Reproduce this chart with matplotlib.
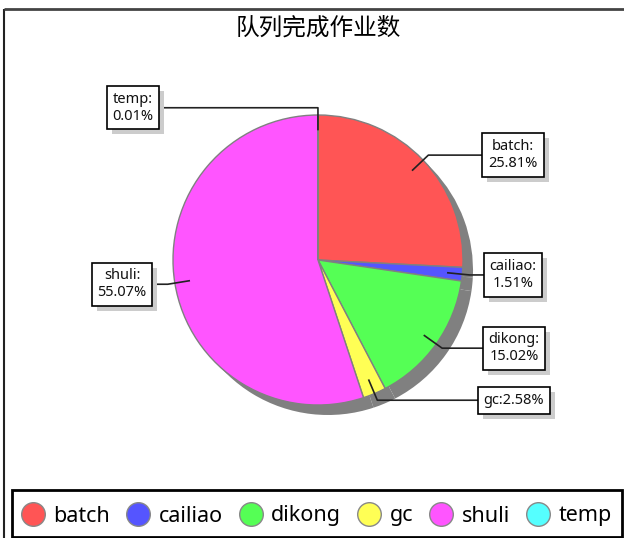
import numpy as np
import matplotlib.pyplot as plt
import matplotlib.patheffects as pe
from matplotlib.lines import Line2D
from matplotlib.patches import Rectangle

plt.rcParams['font.family'] = ['Noto Sans', 'Noto Sans CJK SC', 'DejaVu Sans']

title = '队列完成作业数'
names = ['batch', 'cailiao', 'dikong', 'gc', 'shuli', 'temp']
shares = [25.81, 1.51, 15.02, 2.58, 55.07, 0.01]
colors = ['#ff5555', '#5555ff', '#55ff55', '#ffff55', '#ff55ff', '#55ffff']

W, H = 624, 538
fig = plt.figure(figsize=(W / 100, H / 100), dpi=100)
ax = fig.add_axes([0, 0, 1, 1])

cx, cy, r = 318, 278, 145

# shadow of the pie
ax.pie(shares, colors=['#808080'] * len(shares), startangle=90, counterclock=False,
       center=(cx + 10, cy - 10), radius=r, frame=True,
       wedgeprops=dict(linewidth=0))
wedges, _ = ax.pie(shares, colors=colors, startangle=90, counterclock=False,
                   center=(cx, cy), radius=r, frame=True,
                   wedgeprops=dict(edgecolor='#808080', linewidth=1))

# label boxes with leader lines
box_x = [513, 513, 514, 514, 122, 133]
for w, name, val, bx in zip(wedges, names, shares, box_x):
    ang = np.deg2rad((w.theta1 + w.theta2) / 2)
    x0, y0 = cx + 0.9 * r * np.cos(ang), cy + 0.9 * r * np.sin(ang)
    x1, y1 = cx + 1.05 * r * np.cos(ang), cy + 1.05 * r * np.sin(ang)
    ax.plot([x0, x1, bx], [y0, y1, y1], color='#222222', lw=1.2, zorder=3)
    txt = f'{name}:{val:.2f}%' if len(name) <= 2 else f'{name}:\n{val:.2f}%'
    t = ax.text(bx, y1, txt, ha='center', va='center', fontsize=10.5,
                color='#111111', zorder=5, linespacing=1.15,
                bbox=dict(boxstyle='square,pad=0.4', fc='white', ec='black', lw=1.2))
    t.get_bbox_patch().set_path_effects([
        pe.SimplePatchShadow(offset=(3.6, -3.6), shadow_rgbFace='#cccccc', alpha=1),
        pe.Normal()])

ax.text(318, H - 28, title, ha='center', va='center', fontsize=17,
        family=['Noto Sans CJK SC', 'DejaVu Sans'])

# outer frame (left and top edges visible)
ax.plot([4, 4], [0, H - 8.5], color='#222222', lw=1.5, solid_capstyle='butt')
ax.plot([4, W], [H - 8.5, H - 8.5], color='#444444', lw=2, solid_capstyle='butt')

# legend frame
ax.add_patch(Rectangle((12, 1), 610, 47, fill=False, ec='black', lw=2, zorder=6))
handles = [Line2D([], [], ls='none', marker='o', markersize=17, markerfacecolor=c,
                  markeredgecolor='#888888', markeredgewidth=1) for c in colors]
ax.legend(handles, names, loc='center', bbox_to_anchor=(317 / W, 22 / H),
          bbox_transform=fig.transFigure, ncol=len(names), frameon=False,
          fontsize=15.5, handlelength=1.0, handletextpad=0.45, columnspacing=0.8,
          borderpad=0, borderaxespad=0)

ax.set_xlim(0, W)
ax.set_ylim(0, H)
ax.set_aspect('equal')
ax.axis('off')

fig.savefig('out.png', dpi=100)
